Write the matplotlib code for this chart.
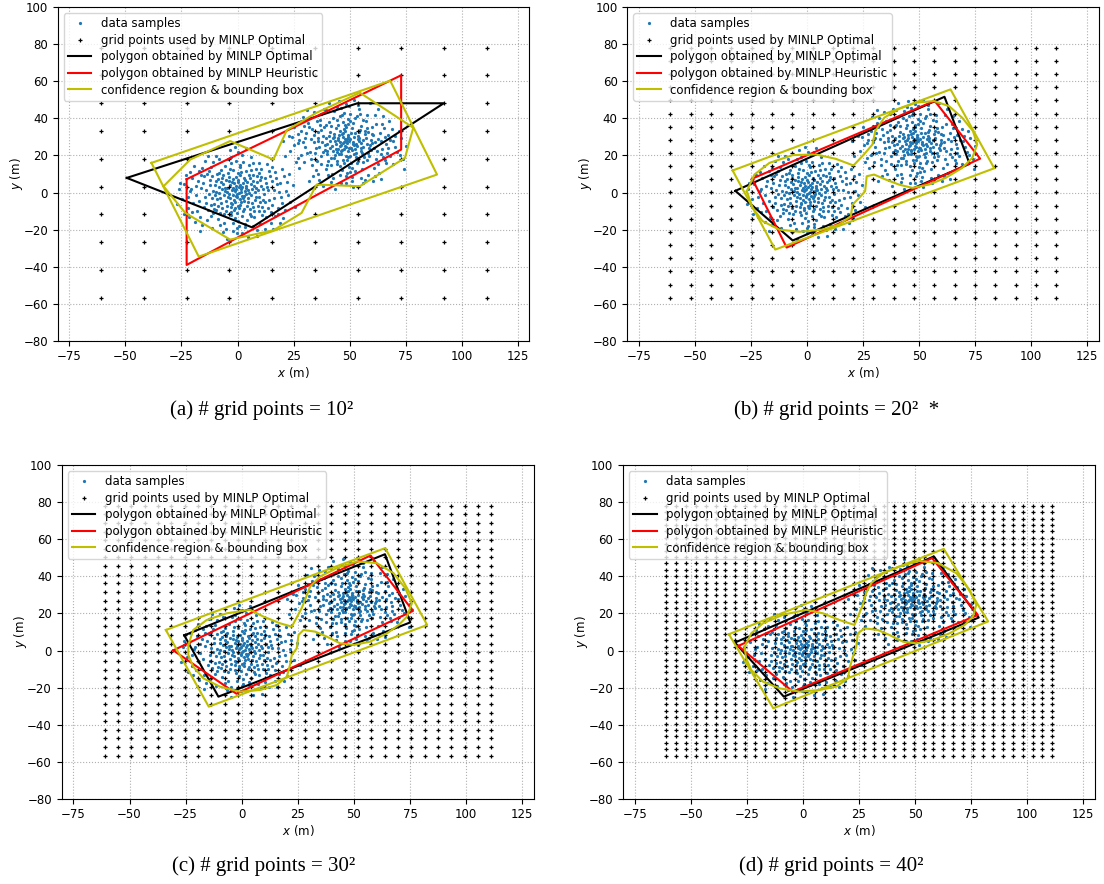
import numpy as np
import matplotlib.pyplot as plt

# data samples (two clusters)
left_pts = [
    (-1.2, 0.8), (2.5, -3.1), (-4.7, 2.2), (0.3, 5.6), (6.1, -1.4), (-7.8, -2.9), (3.9, 3.7), (-2.6, -6.3), (1.7, 1.9), (-0.5, -1.8),
    (8.4, 2.6), (-5.3, 6.9), (4.2, -7.5), (-9.6, 0.4), (0.9, 9.2), (-3.1, -10.7), (11.3, -3.8), (-12.4, 4.1), (5.7, 7.8), (-6.9, -8.4),
    (2.1, -12.9), (-1.8, 12.3), (13.6, 1.2), (-14.1, -5.6), (7.3, -9.8), (-8.2, 10.4), (9.9, 6.5), (-10.8, -11.2), (15.2, -6.9), (-16.3, 2.7),
    (0.4, -15.4), (-2.9, 15.8), (17.4, 4.6), (-18.6, -1.3), (10.6, 12.7), (-11.9, 13.6), (12.8, -13.1), (-13.5, -14.9), (19.3, -2.2), (-20.1, 7.8),
    (3.3, -18.7), (-4.4, 17.9), (21.6, 0.9), (-22.3, -8.1), (6.8, 16.2), (-7.6, -17.3), (16.7, 10.9), (-17.2, 11.8), (14.9, -16.4), (-15.8, -17.6),
    (-0.8, 3.4), (1.5, -5.2), (-3.7, -0.6), (4.6, 1.1), (-2.2, 7.4), (3.1, -8.9), (-6.4, 4.8), (7.7, -4.3), (-5.1, -4.6), (0.7, -0.4),
    (-8.9, 7.2), (9.2, -7.1), (-1.4, -9.6), (2.8, 8.1), (-10.3, -6.1), (10.7, 3.3), (-4.1, 10.8), (5.4, -11.6), (-12.8, -0.9), (12.1, 7.9),
    (-0.2, -22.1), (1.9, 20.4), (23.4, -5.1), (-24.6, -3.7), (18.2, -11.4), (-19.4, 14.2), (8.6, -20.3), (-9.7, 19.6), (20.8, 8.7), (-21.7, -13.2),
    (-25.8, 5.3), (24.7, 3.9), (6.2, 19.1), (-6.6, -21.4), (13.3, 15.6), (-14.5, 17.1), (15.9, -19.8), (-16.9, -20.6), (-3.4, 23.0), (4.8, -24.2),
    (-0.9, 1.6), (2.2, 2.9), (-1.6, -3.9), (3.6, -0.7), (-3.2, 4.3), (1.1, -6.8), (-5.8, 0.9), (5.9, 4.4), (-4.9, -7.3), (6.5, -5.8),
    (-7.1, 1.8), (7.9, 0.2), (0.1, 6.9), (-2.7, -12.2), (3.7, 11.4), (-9.1, -3.5), (9.4, -10.2), (-11.2, 9.1), (11.8, -0.6), (-13.2, -9.4),
    (13.7, -8.6), (-14.8, 8.7), (1.3, 13.9), (-1.1, -13.8), (4.1, -14.6), (-5.6, 14.5), (16.4, -2.9), (-17.8, 6.1), (17.9, -8.2), (-18.1, -9.8),
    (-0.6, 17.2), (0.6, -17.9), (8.1, 12.9), (-8.7, -14.1), (19.7, 12.6), (-20.6, 2.1), (21.4, -9.7), (-22.9, 9.6), (10.2, -16.8), (-10.9, 16.3),
    (-2.4, 1.4), (3.4, 0.6), (-0.3, -2.6), (1.2, 4.2), (-4.3, -2.4), (4.9, -2.8), (-3.9, 8.6), (2.6, -10.1), (-6.2, -11.8), (6.9, 9.7),
    (-7.4, 12.1), (7.5, -13.4), (-8.1, -0.2), (8.8, 5.8), (-9.9, 3.9), (10.1, -4.9), (-11.6, -3.1), (11.5, 1.7), (-12.2, 6.8), (12.6, 4.9),
    (0.0, 10.5), (-0.4, -11.1), (-13.9, 1.3), (14.2, -4.1), (-15.1, -7.7), (15.6, 6.2), (-16.2, 9.4), (16.1, 1.4), (-17.1, -4.4), (18.4, 0.3),
    (-19.7, -5.7), (19.1, 5.1), (-21.2, 0.8), (22.5, -1.6), (-23.7, 4.6), (2.4, 16.6), (-2.1, -16.3), (5.2, 15.1), (-5.9, -16.7), (9.6, 15.9),
    (-1.9, -20.7), (0.2, 21.7), (-8.4, 18.3), (7.1, -18.2), (-11.5, -19.2), (12.3, -19.6), (-4.6, -25.1), (3.8, 24.1), (-26.9, -6.4), (25.8, -7.9),
    (-1.5, 5.3), (1.8, -1.7), (-2.9, -5.4), (4.4, 5.9), (-5.5, 2.6), (5.6, -9.1), (-6.8, 7.7), (6.3, 2.1), (-7.5, -5.9), (8.2, -2.4),
    (-0.7, 8.4), (0.8, -8.2), (-9.3, 9.9), (9.8, 10.6), (-10.6, -8.7), (11.1, -7.6), (-3.5, 12.8), (3.2, -16.9), (-12.9, 11.4), (13.9, 11.8),
    (-0.1, -0.9), (1.4, 0.3), (-2.0, 2.7), (2.9, -1.9), (-3.3, -3.0), (0.5, 3.0), (-1.0, -5.0), (4.0, 2.4), (-4.5, 0.1), (3.0, -4.4),
    (-6.0, -1.5), (5.3, -0.3), (-2.5, 5.9), (0.2, -7.4), (6.7, 6.0), (-7.3, 5.6), (7.0, -7.9), (-8.6, -7.2), (1.6, 11.0), (-1.3, -8.6),
    (9.0, 1.5), (-9.4, -9.3), (10.4, 8.2), (-11.0, 1.0), (11.9, -9.9), (-12.0, -12.7), (0.9, 15.0), (-0.1, -19.3), (14.6, 8.8), (-15.4, 5.4),
    (16.8, -12.6), (-18.9, -15.7), (-26.2, 1.9), (-5.0, -19.9), (5.9, 12.4), (18.9, -16.3), (22.0, 5.6), (-21.0, 11.3), (-2.8, 19.2), (2.0, -21.6),
    (-0.5, 2.1), (0.9, -3.3), (-1.8, -1.1), (2.3, 5.2), (-3.0, -8.0), (3.3, 7.0), (-4.0, 6.2), (4.7, -5.1), (-5.2, -10.1), (5.0, 9.6),
    (-6.6, 9.2), (6.0, -12.6), (-7.9, -10.9), (8.5, 9.1), (-8.3, 2.9), (7.4, 3.6), (-9.8, 6.2), (9.6, -2.3), (-10.1, -1.6), (10.9, -12.1),
    (-11.8, -6.9), (12.4, -5.3), (-13.7, 9.9), (13.1, 2.8), (-14.3, -2.4), (14.8, -10.6), (-15.7, 13.1), (15.3, 13.7), (-16.6, -13.0), (17.2, 7.8),
    (-18.4, 3.6), (19.9, -5.4), (-20.4, -10.7), (20.3, -13.9), (-22.0, -2.2), (23.1, 10.2), (-23.9, -11.4), (-1.0, 24.6), (8.9, -23.3), (-13.1, 19.9),
]
right_pts = [
    (47.3, 27.4), (50.6, 23.8), (44.9, 29.7), (49.1, 31.2), (53.4, 25.1), (42.6, 22.3), (51.8, 29.9), (46.2, 20.8), (48.7, 26.6), (45.5, 24.9),
    (56.1, 28.3), (40.8, 30.6), (52.7, 19.2), (38.9, 25.7), (48.2, 35.4), (44.3, 16.9), (59.4, 22.8), (36.1, 29.3), (54.6, 33.7), (41.7, 18.4),
    (49.8, 13.6), (46.9, 38.1), (61.3, 27.2), (34.5, 21.4), (55.9, 16.7), (39.6, 36.2), (58.2, 32.9), (37.4, 15.3), (63.8, 20.6), (32.7, 28.8),
    (48.9, 10.7), (45.6, 41.3), (65.7, 30.1), (30.2, 24.6), (57.4, 38.6), (36.8, 39.4), (60.7, 13.2), (34.9, 12.1), (67.1, 24.3), (28.4, 33.1),
    (51.2, 8.3), (43.1, 43.9), (69.5, 27.9), (26.9, 18.7), (54.8, 42.2), (40.2, 9.6), (64.6, 36.8), (31.3, 37.7), (62.9, 10.4), (33.6, 9.1),
    (47.9, 28.7), (49.4, 22.6), (46.1, 25.8), (51.3, 27.1), (45.2, 30.8), (50.1, 19.9), (43.7, 27.6), (53.9, 30.4), (44.6, 21.7), (52.4, 23.3),
    (41.4, 32.9), (55.7, 21.4), (47.1, 17.8), (50.9, 34.6), (39.8, 20.6), (57.6, 26.2), (44.8, 36.7), (53.1, 15.9), (37.7, 27.3), (59.8, 31.6),
    (48.3, 5.2), (49.6, 46.8), (71.2, 22.1), (25.3, 25.9), (66.4, 16.1), (29.1, 40.6), (56.8, 6.9), (38.4, 45.1), (68.9, 34.3), (27.6, 13.4),
    (22.8, 30.7), (72.8, 29.4), (54.1, 45.3), (41.9, 5.8), (61.4, 41.7), (34.2, 43.7), (63.9, 7.1), (31.8, 6.4), (45.1, 49.5), (51.7, 2.9),
    (48.4, 27.9), (50.3, 28.8), (46.5, 23.1), (51.9, 25.6), (44.7, 28.1), (49.2, 19.4), (42.3, 25.2), (54.2, 27.8), (43.4, 20.2), (54.9, 22.4),
    (41.1, 27.9), (55.3, 26.7), (48.1, 33.3), (45.8, 14.1), (51.6, 37.4), (39.1, 23.1), (57.9, 17.6), (37.2, 33.8), (59.9, 26.9), (35.4, 17.2),
    (61.6, 18.1), (33.4, 34.4), (49.3, 39.7), (46.6, 12.4), (52.3, 11.8), (42.8, 40.2), (64.3, 23.4), (30.6, 31.9), (65.9, 17.7), (29.8, 16.6),
    (47.4, 43.2), (48.6, 8.7), (56.2, 39.1), (39.3, 12.6), (67.6, 38.4), (27.4, 28.4), (69.3, 15.2), (25.1, 35.2), (58.3, 9.2), (37.1, 42.6),
    (45.7, 27.3), (51.4, 26.4), (47.6, 23.4), (49.2, 30.2), (43.8, 23.7), (52.9, 21.1), (44.1, 34.6), (50.6, 16.1), (41.9, 14.9), (54.9, 35.7),
    (40.6, 38.1), (55.5, 12.7), (39.9, 26.2), (56.8, 31.8), (38.1, 30.3), (58.7, 24.1), (36.4, 24.8), (59.6, 28.6), (35.8, 32.7), (60.6, 30.8),
    (48.0, 36.5), (47.6, 15.9), (34.1, 27.4), (62.2, 22.3), (32.9, 18.3), (63.6, 32.2), (31.8, 35.6), (64.1, 27.7), (30.9, 21.6), (66.4, 26.3),
    (28.3, 20.3), (67.1, 31.1), (26.8, 26.8), (70.4, 24.4), (24.3, 30.1), (50.4, 42.6), (45.9, 9.7), (53.2, 41.1), (42.1, 10.1), (57.6, 41.9),
    (46.1, 5.3), (48.2, 47.7), (39.6, 44.3), (55.1, 8.1), (36.5, 6.8), (60.3, 6.4), (43.4, 1.9), (51.8, 50.1), (21.1, 19.6), (73.9, 18.1),
    (46.4, 31.4), (49.9, 24.3), (45.1, 20.6), (52.4, 32.1), (42.7, 29.2), (53.6, 17.2), (41.3, 24.1), (54.4, 29.3), (40.5, 17.1), (56.2, 24.8),
    (47.3, 34.1), (48.8, 17.3), (38.6, 35.3), (57.9, 35.1), (37.4, 19.9), (58.6, 19.7), (44.2, 39.2), (51.1, 13.3), (35.3, 38.6), (61.9, 37.2),
    (48.6, 24.4), (47.0, 29.9), (49.7, 27.6), (46.3, 22.4), (50.8, 31.9), (44.0, 26.2), (52.1, 20.6), (45.9, 33.2), (53.7, 28.9), (42.9, 31.5),
    (55.0, 23.9), (43.0, 18.9), (49.5, 36.9), (50.2, 11.2), (57.1, 29.6), (39.4, 29.6), (58.0, 21.2), (40.1, 22.4), (46.8, 42.1), (52.6, 40.2),
    (60.1, 35.2), (36.9, 36.6), (62.6, 15.3), (33.1, 14.9), (66.8, 21.5), (29.4, 27.1), (68.2, 28.6), (27.1, 31.7), (44.5, 46.3), (55.8, 4.9),
    (71.9, 33.2), (23.6, 22.6), (75.1, 25.3), (38.0, 3.7), (62.5, 45.0), (31.0, 44.6), (58.9, 48.1), (40.7, 48.6), (74.4, 12.8), (20.1, 27.9),
    (48.1, 25.2), (49.0, 29.1), (46.9, 26.7), (51.0, 22.9), (45.0, 23.3), (52.9, 26.3), (43.2, 29.8), (54.0, 32.8), (44.2, 15.6), (50.3, 38.8),
    (41.6, 36.0), (56.5, 19.0), (40.0, 14.7), (57.0, 33.3), (38.3, 21.8), (59.3, 25.5), (36.0, 27.9), (61.0, 24.0), (34.8, 24.2), (62.7, 29.1),
    (48.5, 19.6), (47.2, 32.2), (33.9, 30.9), (64.8, 19.4), (32.3, 22.0), (65.2, 34.7), (30.1, 29.5), (67.9, 19.9), (29.5, 35.8), (70.1, 30.3),
    (26.0, 16.3), (72.3, 20.0), (46.2, 45.6), (50.9, 6.0), (53.8, 47.4), (42.4, 7.7), (61.2, 8.9), (35.7, 10.1), (64.9, 41.1), (32.2, 40.2),
]

# grid used by MINLP Optimal: n x n points over this rectangle
grid_sizes = [10, 20, 30, 40]
grid_x_span = (-61.0, 111.2)
grid_y_span = (-56.8, 78.2)

# polygon obtained by MINLP Optimal
optimal_polys = [
    [(-49.4, 7.9), (53.5, 48.2), (92.0, 48.2), (6.5, -18.8)],
    [(-32.0, 0.9), (-6.4, -25.9), (72.5, 15.5), (61.3, 51.7)],
    [(-25.6, 8.2), (-10.4, -24.9), (75.1, 15.2), (63.8, 52.0)],
    [(-30.3, 4.3), (-8.5, -24.9), (78.4, 17.8), (58.4, 50.8)],
]
# polygon obtained by MINLP Heuristic
heuristic_polys = [
    [(-22.7, 7.2), (-22.7, -39.1), (73.0, 23.2), (73.0, 63.3)],
    [(-24.5, 7.5), (-9.1, -29.7), (77.2, 18.3), (56.9, 49.5)],
    [(-30.5, 0.1), (-2.4, -23.3), (76.3, 21.4), (57.3, 51.3)],
    [(-28.8, 2.5), (-4.5, -22.2), (78.0, 19.2), (57.6, 49.9)],
]
# bounding box of the confidence region
bound_boxes = [
    [(-38.4, 16.0), (68.1, 60.4), (89.0, 9.7), (-17.3, -34.6)],
    [(-33.2, 11.9), (64.0, 55.7), (83.5, 13.1), (-14.2, -30.8)],
    [(-33.8, 11.1), (63.9, 55.3), (82.6, 13.8), (-14.7, -30.3)],
    [(-33.0, 8.8), (62.8, 54.9), (82.6, 15.7), (-13.2, -31.2)],
]
# confidence region contour
conf_regions = [
    [(-33.0, 3.4), (-21.1, 17.8), (-3.3, 27.8), (16.0, 17.8), (22.0, 33.7), (35.3, 43.1), (54.6, 53.9),
     (78.4, 35.0), (74.7, 18.7), (54.6, 3.4), (35.3, 4.3), (28.6, -11.0), (16.0, -20.4), (-3.3, -25.4),
     (-23.3, -11.0)],
    [(-26.9, 0.7), (-23.5, 9.7), (-16.8, 16.0), (-6.4, 20.2), (3.9, 20.6), (12.8, 18.2), (20.7, 14.6),
     (25.4, 20.6), (29.2, 26.0), (30.4, 33.2), (34.4, 40.4), (41.0, 45.2), (48.5, 48.5), (56.6, 49.4),
     (63.3, 46.7), (69.2, 40.4), (74.0, 33.2), (75.9, 26.0), (73.7, 18.7), (69.2, 13.3), (61.8, 7.9),
     (54.4, 4.3), (46.9, 2.5), (41.0, 4.3), (35.1, 7.0), (29.9, 9.7), (26.6, 8.8), (25.9, 0.7),
     (23.2, -2.9), (20.3, -6.5), (19.5, -12.8), (14.3, -17.3), (6.9, -20.0), (-3.5, -21.2),
     (-12.4, -20.0), (-19.8, -15.5), (-24.3, -8.3)],
    [(-23.8, 3.0), (-21.6, 11.1), (-15.6, 16.5), (-6.7, 20.1), (3.7, 22.0), (9.7, 18.3), (17.1, 14.7),
     (22.3, 12.9), (26.7, 22.9), (28.2, 27.4), (30.5, 34.6), (34.9, 40.0), (42.4, 44.5), (51.3, 48.1),
     (60.2, 47.2), (67.6, 41.8), (72.8, 33.7), (75.8, 25.6), (73.6, 18.3), (69.9, 13.8), (64.7, 9.3),
     (57.2, 4.8), (49.8, 3.0), (43.8, 3.9), (37.9, 7.5), (32.7, 10.2), (27.5, 11.1), (25.3, 8.4),
     (24.5, 1.2), (22.3, -2.4), (21.5, -7.8), (20.1, -14.1), (15.6, -18.6), (8.2, -21.3), (-0.8, -22.2),
     (-9.7, -19.5), (-17.1, -15.0), (-21.6, -8.7), (-23.8, -2.4)],
    [(-26.0, 2.1), (-23.0, 9.3), (-17.8, 14.7), (-8.9, 19.3), (1.5, 22.0), (8.9, 20.1), (16.3, 16.5),
     (23.0, 13.8), (26.7, 24.7), (28.2, 31.0), (30.5, 36.4), (35.7, 41.8), (43.1, 45.4), (52.0, 48.4),
     (60.2, 47.2), (68.4, 41.8), (74.3, 32.8), (77.3, 24.7), (75.8, 18.3), (72.1, 13.8), (65.4, 9.3),
     (57.9, 5.7), (50.5, 3.9), (44.6, 4.8), (38.6, 8.4), (33.4, 11.1), (27.5, 12.0), (24.5, 9.3),
     (23.8, 2.1), (22.3, -3.3), (20.8, -9.6), (20.1, -15.0), (14.9, -19.5), (7.4, -21.3), (-1.5, -22.2),
     (-10.4, -20.4), (-17.8, -16.8), (-23.0, -10.5), (-25.3, -4.2)],
]

captions = ["(a) # grid points = 10²", "(b) # grid points = 20²  *",
            "(c) # grid points = 30²", "(d) # grid points = 40²"]

axes_rects = [
    [0.0523, 0.6146, 0.4272, 0.3771],
    [0.5682, 0.6146, 0.4272, 0.3771],
    [0.0559, 0.0965, 0.4278, 0.3771],
    [0.5643, 0.0965, 0.4275, 0.3771],
]
caption_pos = [(0.237, 0.536), (0.758, 0.536), (0.239, 0.020), (0.753, 0.020)]


def closed(pts):
    a = np.array(pts + [pts[0]])
    return a[:, 0], a[:, 1]


samples = np.array(left_pts + right_pts)
fs = 8.5

fig = plt.figure(figsize=(11.04, 8.84), dpi=100)

for i in range(4):
    ax = fig.add_axes(axes_rects[i])
    n = grid_sizes[i]
    gx, gy = np.meshgrid(np.linspace(*grid_x_span, n), np.linspace(*grid_y_span, n))

    ax.plot(samples[:, 0], samples[:, 1], '.', color='C0', ms=2.6, label='data samples')
    ax.plot(gx.ravel(), gy.ravel(), '+', color='k', ms=2.6, mew=0.9,
            label='grid points used by MINLP Optimal')
    ax.plot(*closed(optimal_polys[i]), color='k', lw=1.5, label='polygon obtained by MINLP Optimal')
    ax.plot(*closed(heuristic_polys[i]), color='r', lw=1.5, label='polygon obtained by MINLP Heuristic')
    ax.plot(*closed(conf_regions[i]), color='y', lw=1.5)
    ax.plot(*closed(bound_boxes[i]), color='y', lw=1.5, label='confidence region & bounding box')

    ax.set_xlim(-80.2, 130.2)
    ax.set_ylim(-80, 100)
    ax.set_xticks(np.arange(-75, 126, 25))
    ax.set_yticks(np.arange(-80, 101, 20))
    ax.tick_params(labelsize=fs)
    ax.grid(True, ls=':', lw=0.8, color='#b0b0b0')
    ax.set_xlabel('$x$ (m)', fontsize=fs, labelpad=1)
    ax.set_ylabel('$y$ (m)', fontsize=fs, labelpad=-1)
    ax.legend(loc='upper left', fontsize=fs, labelspacing=0.3, borderpad=0.35)

    fig.text(caption_pos[i][0], caption_pos[i][1], captions[i], ha='center', va='center',
             family='Liberation Serif', fontsize=15)

fig.savefig('out.png', dpi=100)
